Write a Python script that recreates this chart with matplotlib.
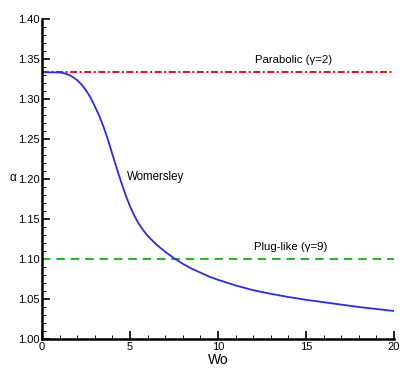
import matplotlib
matplotlib.use("Agg")
import matplotlib.pyplot as plt
from matplotlib.ticker import MultipleLocator, FormatStrFormatter

# Womersley curve
wo = [0, 0.5, 1.0, 1.25, 1.5, 1.75, 2.0, 2.25, 2.5, 2.75, 3.0, 3.25, 3.5, 3.75,
      4.0, 4.25, 4.5, 4.75, 5.0, 5.25, 5.5, 5.75, 6.0, 6.5, 7.0, 7.5, 8.0, 8.5,
      9.0, 9.5, 10.0, 11.0, 12.0, 13.0, 14.0, 15.0, 16.0, 17.0, 18.0, 19.0, 20.0]
alpha = [1.3333, 1.3333, 1.3332, 1.3322, 1.3305, 1.3275, 1.3235, 1.3180, 1.3110,
         1.3020, 1.2910, 1.2790, 1.2650, 1.2490, 1.2310, 1.2130, 1.1960, 1.1800,
         1.1660, 1.1540, 1.1440, 1.1360, 1.1290, 1.1180, 1.1090, 1.1010, 1.0940,
         1.0880, 1.0830, 1.0780, 1.0740, 1.0670, 1.0610, 1.0565, 1.0525, 1.0490,
         1.0460, 1.0430, 1.0400, 1.0375, 1.0350]

parabolic_alpha = 4.0 / 3.0
plug_alpha = 1.10
x_range = [0, 20]

labels = {
    "womersley": "Womersley",
    "parabolic": "Parabolic (\u03b3=2)",
    "plug": "Plug-like (\u03b3=9)",
}

plt.rcParams['font.family'] = ['Liberation Sans', 'DejaVu Sans']

fig = plt.figure(figsize=(4.15, 3.70), dpi=100)
ax = fig.add_axes([42/415, 31/370, 352/415, 320/370])

ax.plot(x_range, [parabolic_alpha]*2, color='#dd0000', lw=1.3,
        linestyle=(0, (3.85, 1.4, 1.15, 1.4)))
ax.plot(x_range, [plug_alpha]*2, color='#22bb22', lw=1.5,
        linestyle=(0, (4.1, 2.8)))
ax.plot(wo, alpha, color='#2a2af0', lw=1.3, solid_joinstyle='round')

ax.text(14.3, 1.349, labels["parabolic"], ha='center', va='center', fontsize=8.2)
ax.text(14.15, 1.115, labels["plug"], ha='center', va='center', fontsize=8.2)
ax.text(4.8, 1.2025, labels["womersley"], ha='left', va='center', fontsize=8.3)

ax.set_xlim(0, 20)
ax.set_ylim(1.00, 1.40)
ax.xaxis.set_major_locator(MultipleLocator(5))
ax.xaxis.set_minor_locator(MultipleLocator(1))
ax.yaxis.set_major_locator(MultipleLocator(0.05))
ax.yaxis.set_minor_locator(MultipleLocator(0.01))
ax.yaxis.set_major_formatter(FormatStrFormatter('%.2f'))

for s in ['top', 'right']:
    ax.spines[s].set_visible(False)
for s in ['left', 'bottom']:
    ax.spines[s].set_linewidth(1.8)

ax.tick_params(which='major', direction='in', length=6, width=1.2, labelsize=8, pad=2)
ax.tick_params(which='minor', direction='in', length=3, width=0.7)

ax.set_xlabel("Wo", fontsize=10, labelpad=1)
fig.text(13/415, 1 - 178/370, "\u03b1", fontsize=8.5, ha='center', va='center')

fig.savefig("out.png", dpi=100)
